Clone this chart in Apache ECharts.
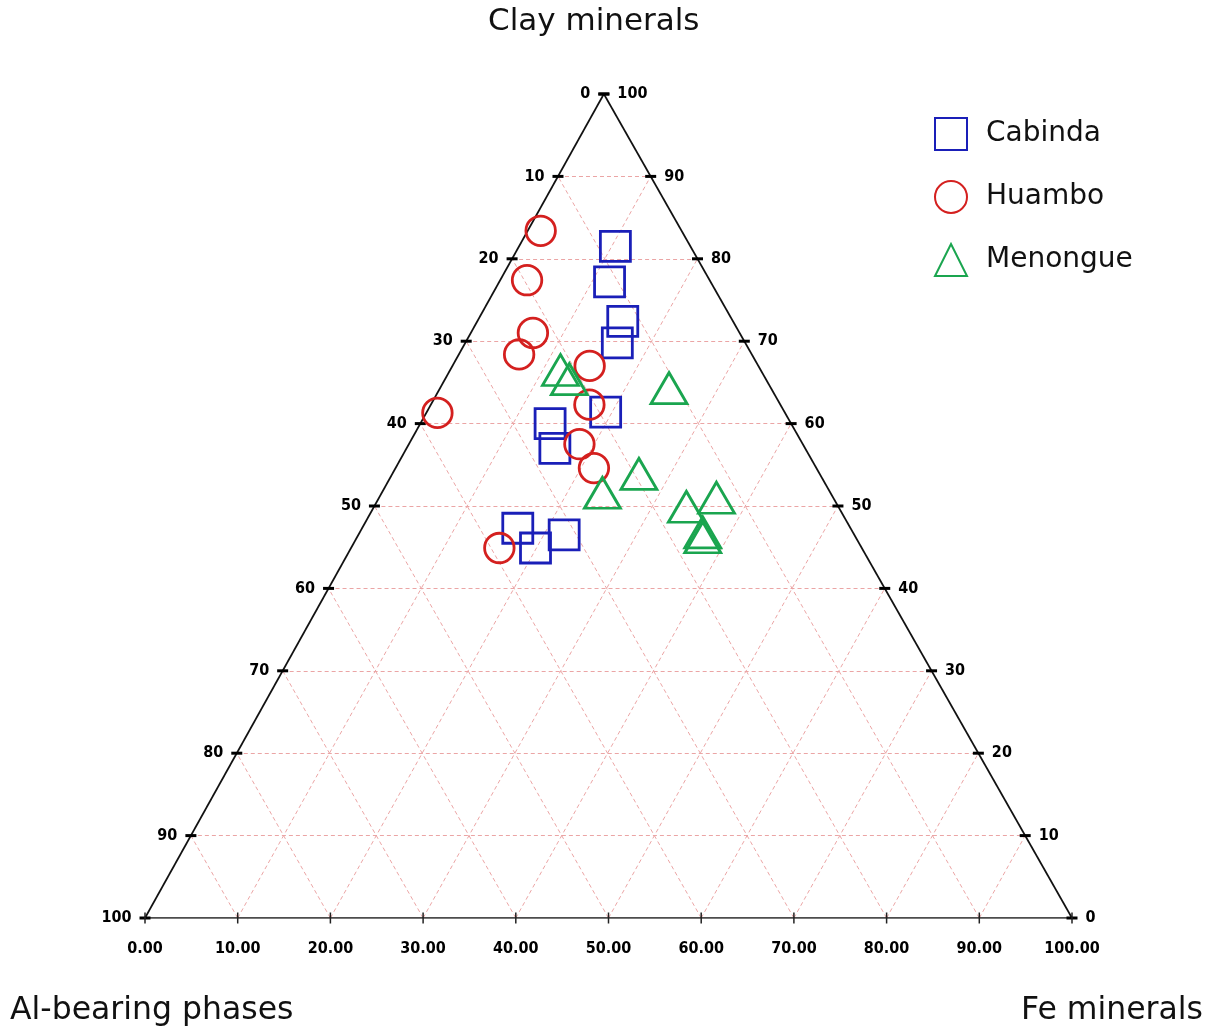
<!DOCTYPE html>
<html>
<head>
<meta charset="utf-8">
<script src="https://cdn.jsdelivr.net/npm/echarts@6/dist/echarts.min.js"></script>
<style>
html,body{margin:0;padding:0;background:#fff;}
#chart{width:1213px;height:1036px;}
</style>
</head>
<body>
<div id="chart"></div>
<script>
// ---- data (ternary percentages) ----
const categories = ['Cabinda', 'Huambo', 'Menongue'];
const axisNames = ['Clay minerals', 'Al-bearing phases', 'Fe minerals'];
const tickValues = [0, 10, 20, 30, 40, 50, 60, 70, 80, 90, 100];
const gridValues = [10, 20, 30, 40, 50, 60, 70, 80, 90];

const cabindaClay = [81.5, 77.2, 72.4, 69.8, 61.4, 60.0, 57.0, 47.3, 46.5, 44.9];
const cabindaFe   = [10.4, 11.9, 15.7, 16.4, 19.3, 14.0, 16.0, 16.8, 22.2, 19.9];
const huamboClay  = [83.4, 77.4, 71.0, 68.4, 67.0, 61.3, 62.3, 57.5, 54.6, 44.9];
const huamboFe    = [1.4, 2.9, 6.7, 6.5, 14.8, 1.2, 17.1, 18.4, 21.4, 16.0];
const menongueClay = [66.5, 65.4, 64.3, 53.9, 51.6, 51.0, 49.9, 46.8, 46.2];
const menongueFe   = [11.9, 13.4, 24.7, 26.6, 23.8, 36.4, 33.7, 37.0, 37.3];

// ---- ternary -> cartesian (apex sits at 49.5% of the base) ----
const APEX = 0.495;
function tern(clay, fe) { return [fe + clay * APEX, clay]; }
function seriesPoints(clay, fe) {
  return clay.map((c, i) => { const p = tern(c, fe[i]); return [p[0], p[1], 100 - c - fe[i]]; });
}

const gridLines = [];
gridValues.forEach(v => {
  gridLines.push({coords: [tern(v, 0), tern(v, 100 - v)]});      // constant clay
  gridLines.push({coords: [tern(0, v), tern(100 - v, v)]});      // constant Fe
  gridLines.push({coords: [tern(0, v), tern(v, 0)]});            // constant Al
});
const edgeLines = [
  {coords: [tern(0, 0), tern(0, 100)]},
  {coords: [tern(0, 0), tern(100, 0)]},
  {coords: [tern(0, 100), tern(100, 0)]}
];

const leftTicks = tickValues.map(a => { const p = tern(100 - a, 0); return [p[0], p[1], String(a)]; });
const rightTicks = tickValues.map(c => { const p = tern(c, 100 - c); return [p[0], p[1], String(c)]; });
const bottomTicks = tickValues.map(f => { const p = tern(0, f); return [p[0], p[1], f.toFixed(2)]; });

const tickFont = {fontFamily: 'DejaVu Sans Condensed, DejaVu Sans', fontWeight: 'bold', fontSize: 16, color: '#000'};

const colors = ['#1a1fb8', '#d4201f', '#1aa54f'];
function markerSeries(name, data, symbol, size, color) {
  return {
    name: name, type: 'scatter', data: data, symbol: symbol, symbolSize: size,
    itemStyle: {color: 'rgba(255,255,255,0)', borderColor: color, borderWidth: 2.8, opacity: 1},
    z: 10, silent: true
  };
}

const chart = echarts.init(document.getElementById('chart'), null, {renderer: 'canvas'});
chart.setOption({
  animation: false,
  backgroundColor: '#fff',
  grid: {left: 145, top: 94, width: 927, height: 824},
  xAxis: {type: 'value', min: 0, max: 100, show: false},
  yAxis: {type: 'value', min: 0, max: 100, show: false},
  legend: {
    orient: 'vertical', left: 934, top: 117, padding: 0, itemWidth: 32, itemHeight: 32, itemGap: 29,
    data: categories, selectedMode: false,
    textStyle: {fontFamily: 'DejaVu Sans', fontSize: 28, color: '#111', padding: [0, 0, 0, 14]}
  },
  graphic: [
    {type: 'text', left: 488, top: 6, style: {text: axisNames[0], fontFamily: 'DejaVu Sans', fontSize: 31, fill: '#111'}},
    {type: 'text', left: 10, top: 995, style: {text: axisNames[1], fontFamily: 'DejaVu Sans', fontSize: 31.5, fill: '#111'}},
    {type: 'text', right: 10, top: 995, style: {text: axisNames[2], fontFamily: 'DejaVu Sans', fontSize: 31.5, fill: '#111'}}
  ],
  series: [
    {type: 'lines', coordinateSystem: 'cartesian2d', data: gridLines, silent: true, z: 1,
     lineStyle: {color: '#eba5a5', width: 1, type: [4, 3], opacity: 1}},
    {type: 'lines', coordinateSystem: 'cartesian2d', data: edgeLines, silent: true, z: 2,
     lineStyle: {color: '#111', width: 1.7, opacity: 1}},
    {type: 'scatter', data: leftTicks, symbol: 'rect', symbolSize: [11, 3], silent: true, z: 3,
     itemStyle: {color: '#000', opacity: 1},
     label: Object.assign({show: true, position: 'left', distance: 8, formatter: p => p.value[2]}, tickFont)},
    {type: 'scatter', data: rightTicks, symbol: 'rect', symbolSize: [11, 3], silent: true, z: 3,
     itemStyle: {color: '#000', opacity: 1},
     label: Object.assign({show: true, position: 'right', distance: 8, formatter: p => p.value[2]}, tickFont)},
    {type: 'scatter', data: bottomTicks, symbol: 'rect', symbolSize: [1.5, 11], silent: true, z: 3,
     itemStyle: {color: '#222', opacity: 1},
     label: Object.assign({show: true, position: 'bottom', distance: 17, formatter: p => p.value[2]}, tickFont)},
    markerSeries(categories[0], seriesPoints(cabindaClay, cabindaFe), 'rect', 30, colors[0]),
    markerSeries(categories[1], seriesPoints(huamboClay, huamboFe), 'circle', 29.5, colors[1]),
    markerSeries(categories[2], seriesPoints(menongueClay, menongueFe), 'triangle', [36, 31], colors[2])
  ]
});
</script>
</body>
</html>
